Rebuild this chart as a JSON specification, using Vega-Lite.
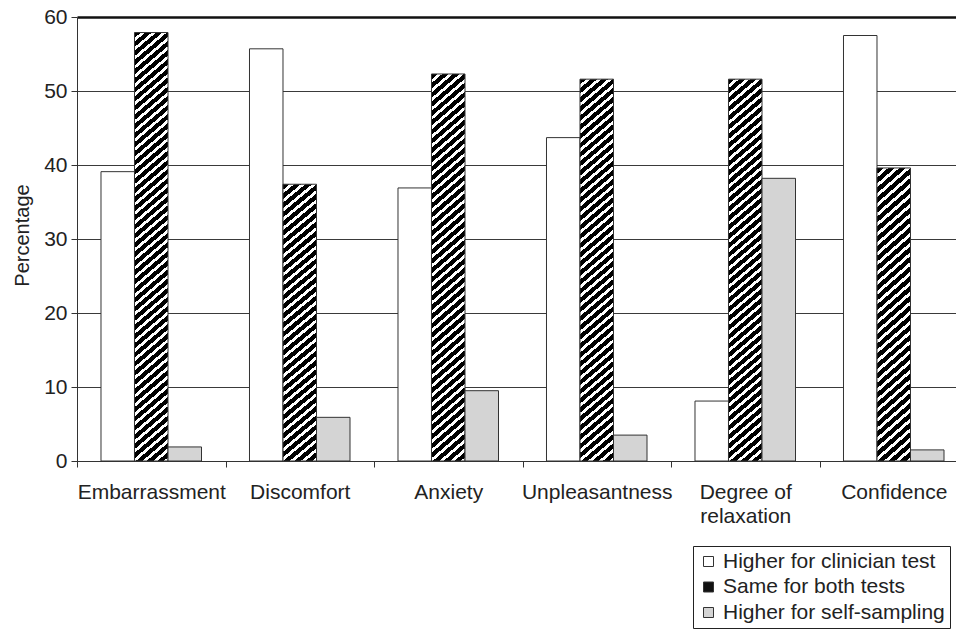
{
  "$schema": "https://vega.github.io/schema/vega-lite/v6.json",
  "width": 879,
  "height": 444,
  "autosize": {"type": "none"},
  "padding": {"left": 77, "top": 17, "right": 0, "bottom": 169},
  "background": "white",
  "config": {"view": {"stroke": null}, "font": "Liberation Sans"},
  "data": {
    "values": [
      {"category": "Embarrassment", "series": "Higher for clinician test", "value": 39.1},
      {"category": "Embarrassment", "series": "Same for both tests", "value": 57.9},
      {"category": "Embarrassment", "series": "Higher for self-sampling", "value": 1.9},
      {"category": "Discomfort", "series": "Higher for clinician test", "value": 55.7},
      {"category": "Discomfort", "series": "Same for both tests", "value": 37.4},
      {"category": "Discomfort", "series": "Higher for self-sampling", "value": 5.9},
      {"category": "Anxiety", "series": "Higher for clinician test", "value": 36.9},
      {"category": "Anxiety", "series": "Same for both tests", "value": 52.3},
      {"category": "Anxiety", "series": "Higher for self-sampling", "value": 9.5},
      {"category": "Unpleasantness", "series": "Higher for clinician test", "value": 43.7},
      {"category": "Unpleasantness", "series": "Same for both tests", "value": 51.6},
      {"category": "Unpleasantness", "series": "Higher for self-sampling", "value": 3.5},
      {"category": "Degree of relaxation", "series": "Higher for clinician test", "value": 8.1},
      {"category": "Degree of relaxation", "series": "Same for both tests", "value": 51.6},
      {"category": "Degree of relaxation", "series": "Higher for self-sampling", "value": 38.2},
      {"category": "Confidence", "series": "Higher for clinician test", "value": 57.5},
      {"category": "Confidence", "series": "Same for both tests", "value": 39.6},
      {"category": "Confidence", "series": "Higher for self-sampling", "value": 1.5}
    ]
  },
  "mark": {"type": "bar", "stroke": "#333", "strokeWidth": 1},
  "encoding": {
    "x": {
      "field": "category",
      "type": "nominal",
      "sort": null,
      "scale": {"range": [0, 891], "paddingInner": 0, "paddingOuter": 0},
      "axis": {
        "title": null,
        "labelAngle": 0,
        "labelFontSize": 21,
        "labelColor": "#222",
        "labelPadding": 14,
        "labelLineHeight": 24,
        "labelOverlap": false,
        "labelLimit": 300,
        "tickBand": "extent",
        "tickSize": 6,
        "tickColor": "#333",
        "domainColor": "#333",
        "grid": false,
        "labelExpr": "datum.value === 'Degree of relaxation' ? ['Degree of', 'relaxation'] : datum.label"
      }
    },
    "xOffset": {
      "field": "series",
      "type": "nominal",
      "sort": null,
      "scale": {"paddingInner": 0, "paddingOuter": 0.716}
    },
    "y": {
      "field": "value",
      "type": "quantitative",
      "scale": {"domain": [0, 60]},
      "axis": {
        "title": "Percentage",
        "values": [0, 10, 20, 30, 40, 50, 60],
        "grid": true,
        "gridColor": {"condition": {"test": "datum.value === 60", "value": "#111"}, "value": "#3a3a3a"},
        "gridWidth": {"condition": {"test": "datum.value === 60", "value": 2.4}, "value": 1.2},
        "tickSize": 6,
        "tickColor": "#333",
        "domainColor": "#333",
        "labelFontSize": 21,
        "labelColor": "#222",
        "labelPadding": 4,
        "titleFontSize": 20,
        "titleFontWeight": "normal",
        "titleColor": "#222",
        "titleX": -49,
        "titleY": 218,
        "titleBaseline": "alphabetic",
        "titleAlign": "center"
      }
    },
    "fill": {
      "field": "series",
      "type": "nominal",
      "scale": {
        "domain": ["Higher for clinician test", "Same for both tests", "Higher for self-sampling"],
        "range": ["#ffffff", "#111111", "#d4d4d4"]
      },
      "legend": {
        "title": null,
        "orient": "none",
        "legendX": 616,
        "legendY": 529,
        "direction": "vertical",
        "strokeColor": "#222",
        "fillColor": "#ffffff",
        "padding": 5,
        "symbolType": "square",
        "symbolSize": 100,
        "symbolStrokeWidth": 1,
        "labelFontSize": 21,
        "labelColor": "#222",
        "labelOffset": 4,
        "rowPadding": 3.5,
        "labelLimit": 500
      },
      "condition": [
        {
          "test": "datum.series === 'Same for both tests' && datum.category === 'Embarrassment'",
          "value": {"gradient": "linear", "x1": 0, "y1": 0, "x2": 0.0706, "y2": 1.0618, "stops": [
            {"offset":0,"color":"#000"},{"offset":0.012,"color":"#000"},{"offset":0.012,"color":"#fff"},{"offset":0.02,"color":"#fff"},
            {"offset":0.02,"color":"#000"},{"offset":0.032,"color":"#000"},{"offset":0.032,"color":"#fff"},{"offset":0.04,"color":"#fff"},
            {"offset":0.04,"color":"#000"},{"offset":0.052,"color":"#000"},{"offset":0.052,"color":"#fff"},{"offset":0.06,"color":"#fff"},
            {"offset":0.06,"color":"#000"},{"offset":0.072,"color":"#000"},{"offset":0.072,"color":"#fff"},{"offset":0.08,"color":"#fff"},
            {"offset":0.08,"color":"#000"},{"offset":0.092,"color":"#000"},{"offset":0.092,"color":"#fff"},{"offset":0.1,"color":"#fff"},
            {"offset":0.1,"color":"#000"},{"offset":0.112,"color":"#000"},{"offset":0.112,"color":"#fff"},{"offset":0.12,"color":"#fff"},
            {"offset":0.12,"color":"#000"},{"offset":0.132,"color":"#000"},{"offset":0.132,"color":"#fff"},{"offset":0.14,"color":"#fff"},
            {"offset":0.14,"color":"#000"},{"offset":0.152,"color":"#000"},{"offset":0.152,"color":"#fff"},{"offset":0.16,"color":"#fff"},
            {"offset":0.16,"color":"#000"},{"offset":0.172,"color":"#000"},{"offset":0.172,"color":"#fff"},{"offset":0.18,"color":"#fff"},
            {"offset":0.18,"color":"#000"},{"offset":0.192,"color":"#000"},{"offset":0.192,"color":"#fff"},{"offset":0.2,"color":"#fff"},
            {"offset":0.2,"color":"#000"},{"offset":0.212,"color":"#000"},{"offset":0.212,"color":"#fff"},{"offset":0.22,"color":"#fff"},
            {"offset":0.22,"color":"#000"},{"offset":0.232,"color":"#000"},{"offset":0.232,"color":"#fff"},{"offset":0.24,"color":"#fff"},
            {"offset":0.24,"color":"#000"},{"offset":0.252,"color":"#000"},{"offset":0.252,"color":"#fff"},{"offset":0.26,"color":"#fff"},
            {"offset":0.26,"color":"#000"},{"offset":0.272,"color":"#000"},{"offset":0.272,"color":"#fff"},{"offset":0.28,"color":"#fff"},
            {"offset":0.28,"color":"#000"},{"offset":0.292,"color":"#000"},{"offset":0.292,"color":"#fff"},{"offset":0.3,"color":"#fff"},
            {"offset":0.3,"color":"#000"},{"offset":0.312,"color":"#000"},{"offset":0.312,"color":"#fff"},{"offset":0.32,"color":"#fff"},
            {"offset":0.32,"color":"#000"},{"offset":0.332,"color":"#000"},{"offset":0.332,"color":"#fff"},{"offset":0.34,"color":"#fff"},
            {"offset":0.34,"color":"#000"},{"offset":0.352,"color":"#000"},{"offset":0.352,"color":"#fff"},{"offset":0.36,"color":"#fff"},
            {"offset":0.36,"color":"#000"},{"offset":0.372,"color":"#000"},{"offset":0.372,"color":"#fff"},{"offset":0.38,"color":"#fff"},
            {"offset":0.38,"color":"#000"},{"offset":0.392,"color":"#000"},{"offset":0.392,"color":"#fff"},{"offset":0.4,"color":"#fff"},
            {"offset":0.4,"color":"#000"},{"offset":0.412,"color":"#000"},{"offset":0.412,"color":"#fff"},{"offset":0.42,"color":"#fff"},
            {"offset":0.42,"color":"#000"},{"offset":0.432,"color":"#000"},{"offset":0.432,"color":"#fff"},{"offset":0.44,"color":"#fff"},
            {"offset":0.44,"color":"#000"},{"offset":0.452,"color":"#000"},{"offset":0.452,"color":"#fff"},{"offset":0.46,"color":"#fff"},
            {"offset":0.46,"color":"#000"},{"offset":0.472,"color":"#000"},{"offset":0.472,"color":"#fff"},{"offset":0.48,"color":"#fff"},
            {"offset":0.48,"color":"#000"},{"offset":0.492,"color":"#000"},{"offset":0.492,"color":"#fff"},{"offset":0.5,"color":"#fff"},
            {"offset":0.5,"color":"#000"},{"offset":0.512,"color":"#000"},{"offset":0.512,"color":"#fff"},{"offset":0.52,"color":"#fff"},
            {"offset":0.52,"color":"#000"},{"offset":0.532,"color":"#000"},{"offset":0.532,"color":"#fff"},{"offset":0.54,"color":"#fff"},
            {"offset":0.54,"color":"#000"},{"offset":0.552,"color":"#000"},{"offset":0.552,"color":"#fff"},{"offset":0.56,"color":"#fff"},
            {"offset":0.56,"color":"#000"},{"offset":0.572,"color":"#000"},{"offset":0.572,"color":"#fff"},{"offset":0.58,"color":"#fff"},
            {"offset":0.58,"color":"#000"},{"offset":0.592,"color":"#000"},{"offset":0.592,"color":"#fff"},{"offset":0.6,"color":"#fff"},
            {"offset":0.6,"color":"#000"},{"offset":0.612,"color":"#000"},{"offset":0.612,"color":"#fff"},{"offset":0.62,"color":"#fff"},
            {"offset":0.62,"color":"#000"},{"offset":0.632,"color":"#000"},{"offset":0.632,"color":"#fff"},{"offset":0.64,"color":"#fff"},
            {"offset":0.64,"color":"#000"},{"offset":0.652,"color":"#000"},{"offset":0.652,"color":"#fff"},{"offset":0.66,"color":"#fff"},
            {"offset":0.66,"color":"#000"},{"offset":0.672,"color":"#000"},{"offset":0.672,"color":"#fff"},{"offset":0.68,"color":"#fff"},
            {"offset":0.68,"color":"#000"},{"offset":0.692,"color":"#000"},{"offset":0.692,"color":"#fff"},{"offset":0.7,"color":"#fff"},
            {"offset":0.7,"color":"#000"},{"offset":0.712,"color":"#000"},{"offset":0.712,"color":"#fff"},{"offset":0.72,"color":"#fff"},
            {"offset":0.72,"color":"#000"},{"offset":0.732,"color":"#000"},{"offset":0.732,"color":"#fff"},{"offset":0.74,"color":"#fff"},
            {"offset":0.74,"color":"#000"},{"offset":0.752,"color":"#000"},{"offset":0.752,"color":"#fff"},{"offset":0.76,"color":"#fff"},
            {"offset":0.76,"color":"#000"},{"offset":0.772,"color":"#000"},{"offset":0.772,"color":"#fff"},{"offset":0.78,"color":"#fff"},
            {"offset":0.78,"color":"#000"},{"offset":0.792,"color":"#000"},{"offset":0.792,"color":"#fff"},{"offset":0.8,"color":"#fff"},
            {"offset":0.8,"color":"#000"},{"offset":0.812,"color":"#000"},{"offset":0.812,"color":"#fff"},{"offset":0.82,"color":"#fff"},
            {"offset":0.82,"color":"#000"},{"offset":0.832,"color":"#000"},{"offset":0.832,"color":"#fff"},{"offset":0.84,"color":"#fff"},
            {"offset":0.84,"color":"#000"},{"offset":0.852,"color":"#000"},{"offset":0.852,"color":"#fff"},{"offset":0.86,"color":"#fff"},
            {"offset":0.86,"color":"#000"},{"offset":0.872,"color":"#000"},{"offset":0.872,"color":"#fff"},{"offset":0.88,"color":"#fff"},
            {"offset":0.88,"color":"#000"},{"offset":0.892,"color":"#000"},{"offset":0.892,"color":"#fff"},{"offset":0.9,"color":"#fff"},
            {"offset":0.9,"color":"#000"},{"offset":0.912,"color":"#000"},{"offset":0.912,"color":"#fff"},{"offset":0.92,"color":"#fff"},
            {"offset":0.92,"color":"#000"},{"offset":0.932,"color":"#000"},{"offset":0.932,"color":"#fff"},{"offset":0.94,"color":"#fff"},
            {"offset":0.94,"color":"#000"},{"offset":0.952,"color":"#000"},{"offset":0.952,"color":"#fff"},{"offset":0.96,"color":"#fff"},
            {"offset":0.96,"color":"#000"},{"offset":0.972,"color":"#000"},{"offset":0.972,"color":"#fff"},{"offset":0.98,"color":"#fff"},
            {"offset":0.98,"color":"#000"},{"offset":0.992,"color":"#000"},{"offset":0.992,"color":"#fff"},{"offset":1,"color":"#fff"}
          ]}
        },
        {
          "test": "datum.series === 'Same for both tests' && (datum.category === 'Anxiety' || datum.category === 'Unpleasantness' || datum.category === 'Degree of relaxation')",
          "value": {"gradient": "linear", "x1": 0, "y1": 0, "x2": 0.0793, "y2": 1.0684, "stops": [
            {"offset":0,"color":"#000"},{"offset":0.0133,"color":"#000"},{"offset":0.0133,"color":"#fff"},{"offset":0.0222,"color":"#fff"},
            {"offset":0.0222,"color":"#000"},{"offset":0.0356,"color":"#000"},{"offset":0.0356,"color":"#fff"},{"offset":0.0444,"color":"#fff"},
            {"offset":0.0444,"color":"#000"},{"offset":0.0578,"color":"#000"},{"offset":0.0578,"color":"#fff"},{"offset":0.0667,"color":"#fff"},
            {"offset":0.0667,"color":"#000"},{"offset":0.08,"color":"#000"},{"offset":0.08,"color":"#fff"},{"offset":0.0889,"color":"#fff"},
            {"offset":0.0889,"color":"#000"},{"offset":0.1022,"color":"#000"},{"offset":0.1022,"color":"#fff"},{"offset":0.1111,"color":"#fff"},
            {"offset":0.1111,"color":"#000"},{"offset":0.1244,"color":"#000"},{"offset":0.1244,"color":"#fff"},{"offset":0.1333,"color":"#fff"},
            {"offset":0.1333,"color":"#000"},{"offset":0.1467,"color":"#000"},{"offset":0.1467,"color":"#fff"},{"offset":0.1556,"color":"#fff"},
            {"offset":0.1556,"color":"#000"},{"offset":0.1689,"color":"#000"},{"offset":0.1689,"color":"#fff"},{"offset":0.1778,"color":"#fff"},
            {"offset":0.1778,"color":"#000"},{"offset":0.1911,"color":"#000"},{"offset":0.1911,"color":"#fff"},{"offset":0.2,"color":"#fff"},
            {"offset":0.2,"color":"#000"},{"offset":0.2133,"color":"#000"},{"offset":0.2133,"color":"#fff"},{"offset":0.2222,"color":"#fff"},
            {"offset":0.2222,"color":"#000"},{"offset":0.2356,"color":"#000"},{"offset":0.2356,"color":"#fff"},{"offset":0.2444,"color":"#fff"},
            {"offset":0.2444,"color":"#000"},{"offset":0.2578,"color":"#000"},{"offset":0.2578,"color":"#fff"},{"offset":0.2667,"color":"#fff"},
            {"offset":0.2667,"color":"#000"},{"offset":0.28,"color":"#000"},{"offset":0.28,"color":"#fff"},{"offset":0.2889,"color":"#fff"},
            {"offset":0.2889,"color":"#000"},{"offset":0.3022,"color":"#000"},{"offset":0.3022,"color":"#fff"},{"offset":0.3111,"color":"#fff"},
            {"offset":0.3111,"color":"#000"},{"offset":0.3244,"color":"#000"},{"offset":0.3244,"color":"#fff"},{"offset":0.3333,"color":"#fff"},
            {"offset":0.3333,"color":"#000"},{"offset":0.3467,"color":"#000"},{"offset":0.3467,"color":"#fff"},{"offset":0.3556,"color":"#fff"},
            {"offset":0.3556,"color":"#000"},{"offset":0.3689,"color":"#000"},{"offset":0.3689,"color":"#fff"},{"offset":0.3778,"color":"#fff"},
            {"offset":0.3778,"color":"#000"},{"offset":0.3911,"color":"#000"},{"offset":0.3911,"color":"#fff"},{"offset":0.4,"color":"#fff"},
            {"offset":0.4,"color":"#000"},{"offset":0.4133,"color":"#000"},{"offset":0.4133,"color":"#fff"},{"offset":0.4222,"color":"#fff"},
            {"offset":0.4222,"color":"#000"},{"offset":0.4356,"color":"#000"},{"offset":0.4356,"color":"#fff"},{"offset":0.4444,"color":"#fff"},
            {"offset":0.4444,"color":"#000"},{"offset":0.4578,"color":"#000"},{"offset":0.4578,"color":"#fff"},{"offset":0.4667,"color":"#fff"},
            {"offset":0.4667,"color":"#000"},{"offset":0.48,"color":"#000"},{"offset":0.48,"color":"#fff"},{"offset":0.4889,"color":"#fff"},
            {"offset":0.4889,"color":"#000"},{"offset":0.5022,"color":"#000"},{"offset":0.5022,"color":"#fff"},{"offset":0.5111,"color":"#fff"},
            {"offset":0.5111,"color":"#000"},{"offset":0.5244,"color":"#000"},{"offset":0.5244,"color":"#fff"},{"offset":0.5333,"color":"#fff"},
            {"offset":0.5333,"color":"#000"},{"offset":0.5467,"color":"#000"},{"offset":0.5467,"color":"#fff"},{"offset":0.5556,"color":"#fff"},
            {"offset":0.5556,"color":"#000"},{"offset":0.5689,"color":"#000"},{"offset":0.5689,"color":"#fff"},{"offset":0.5778,"color":"#fff"},
            {"offset":0.5778,"color":"#000"},{"offset":0.5911,"color":"#000"},{"offset":0.5911,"color":"#fff"},{"offset":0.6,"color":"#fff"},
            {"offset":0.6,"color":"#000"},{"offset":0.6133,"color":"#000"},{"offset":0.6133,"color":"#fff"},{"offset":0.6222,"color":"#fff"},
            {"offset":0.6222,"color":"#000"},{"offset":0.6356,"color":"#000"},{"offset":0.6356,"color":"#fff"},{"offset":0.6444,"color":"#fff"},
            {"offset":0.6444,"color":"#000"},{"offset":0.6578,"color":"#000"},{"offset":0.6578,"color":"#fff"},{"offset":0.6667,"color":"#fff"},
            {"offset":0.6667,"color":"#000"},{"offset":0.68,"color":"#000"},{"offset":0.68,"color":"#fff"},{"offset":0.6889,"color":"#fff"},
            {"offset":0.6889,"color":"#000"},{"offset":0.7022,"color":"#000"},{"offset":0.7022,"color":"#fff"},{"offset":0.7111,"color":"#fff"},
            {"offset":0.7111,"color":"#000"},{"offset":0.7244,"color":"#000"},{"offset":0.7244,"color":"#fff"},{"offset":0.7333,"color":"#fff"},
            {"offset":0.7333,"color":"#000"},{"offset":0.7467,"color":"#000"},{"offset":0.7467,"color":"#fff"},{"offset":0.7556,"color":"#fff"},
            {"offset":0.7556,"color":"#000"},{"offset":0.7689,"color":"#000"},{"offset":0.7689,"color":"#fff"},{"offset":0.7778,"color":"#fff"},
            {"offset":0.7778,"color":"#000"},{"offset":0.7911,"color":"#000"},{"offset":0.7911,"color":"#fff"},{"offset":0.8,"color":"#fff"},
            {"offset":0.8,"color":"#000"},{"offset":0.8133,"color":"#000"},{"offset":0.8133,"color":"#fff"},{"offset":0.8222,"color":"#fff"},
            {"offset":0.8222,"color":"#000"},{"offset":0.8356,"color":"#000"},{"offset":0.8356,"color":"#fff"},{"offset":0.8444,"color":"#fff"},
            {"offset":0.8444,"color":"#000"},{"offset":0.8578,"color":"#000"},{"offset":0.8578,"color":"#fff"},{"offset":0.8667,"color":"#fff"},
            {"offset":0.8667,"color":"#000"},{"offset":0.88,"color":"#000"},{"offset":0.88,"color":"#fff"},{"offset":0.8889,"color":"#fff"},
            {"offset":0.8889,"color":"#000"},{"offset":0.9022,"color":"#000"},{"offset":0.9022,"color":"#fff"},{"offset":0.9111,"color":"#fff"},
            {"offset":0.9111,"color":"#000"},{"offset":0.9244,"color":"#000"},{"offset":0.9244,"color":"#fff"},{"offset":0.9333,"color":"#fff"},
            {"offset":0.9333,"color":"#000"},{"offset":0.9467,"color":"#000"},{"offset":0.9467,"color":"#fff"},{"offset":0.9556,"color":"#fff"},
            {"offset":0.9556,"color":"#000"},{"offset":0.9689,"color":"#000"},{"offset":0.9689,"color":"#fff"},{"offset":0.9778,"color":"#fff"},
            {"offset":0.9778,"color":"#000"},{"offset":0.9911,"color":"#000"},{"offset":0.9911,"color":"#fff"},{"offset":1,"color":"#fff"}
          ]}
        },
        {
          "test": "datum.series === 'Same for both tests'",
          "value": {"gradient": "linear", "x1": 0, "y1": 0, "x2": 0.1088, "y2": 1.089, "stops": [
            {"offset":0,"color":"#000"},{"offset":0.0182,"color":"#000"},{"offset":0.0182,"color":"#fff"},{"offset":0.0303,"color":"#fff"},
            {"offset":0.0303,"color":"#000"},{"offset":0.0485,"color":"#000"},{"offset":0.0485,"color":"#fff"},{"offset":0.0606,"color":"#fff"},
            {"offset":0.0606,"color":"#000"},{"offset":0.0788,"color":"#000"},{"offset":0.0788,"color":"#fff"},{"offset":0.0909,"color":"#fff"},
            {"offset":0.0909,"color":"#000"},{"offset":0.1091,"color":"#000"},{"offset":0.1091,"color":"#fff"},{"offset":0.1212,"color":"#fff"},
            {"offset":0.1212,"color":"#000"},{"offset":0.1394,"color":"#000"},{"offset":0.1394,"color":"#fff"},{"offset":0.1515,"color":"#fff"},
            {"offset":0.1515,"color":"#000"},{"offset":0.1697,"color":"#000"},{"offset":0.1697,"color":"#fff"},{"offset":0.1818,"color":"#fff"},
            {"offset":0.1818,"color":"#000"},{"offset":0.2,"color":"#000"},{"offset":0.2,"color":"#fff"},{"offset":0.2121,"color":"#fff"},
            {"offset":0.2121,"color":"#000"},{"offset":0.2303,"color":"#000"},{"offset":0.2303,"color":"#fff"},{"offset":0.2424,"color":"#fff"},
            {"offset":0.2424,"color":"#000"},{"offset":0.2606,"color":"#000"},{"offset":0.2606,"color":"#fff"},{"offset":0.2727,"color":"#fff"},
            {"offset":0.2727,"color":"#000"},{"offset":0.2909,"color":"#000"},{"offset":0.2909,"color":"#fff"},{"offset":0.303,"color":"#fff"},
            {"offset":0.303,"color":"#000"},{"offset":0.3212,"color":"#000"},{"offset":0.3212,"color":"#fff"},{"offset":0.3333,"color":"#fff"},
            {"offset":0.3333,"color":"#000"},{"offset":0.3515,"color":"#000"},{"offset":0.3515,"color":"#fff"},{"offset":0.3636,"color":"#fff"},
            {"offset":0.3636,"color":"#000"},{"offset":0.3818,"color":"#000"},{"offset":0.3818,"color":"#fff"},{"offset":0.3939,"color":"#fff"},
            {"offset":0.3939,"color":"#000"},{"offset":0.4121,"color":"#000"},{"offset":0.4121,"color":"#fff"},{"offset":0.4242,"color":"#fff"},
            {"offset":0.4242,"color":"#000"},{"offset":0.4424,"color":"#000"},{"offset":0.4424,"color":"#fff"},{"offset":0.4545,"color":"#fff"},
            {"offset":0.4545,"color":"#000"},{"offset":0.4727,"color":"#000"},{"offset":0.4727,"color":"#fff"},{"offset":0.4848,"color":"#fff"},
            {"offset":0.4848,"color":"#000"},{"offset":0.503,"color":"#000"},{"offset":0.503,"color":"#fff"},{"offset":0.5152,"color":"#fff"},
            {"offset":0.5152,"color":"#000"},{"offset":0.5333,"color":"#000"},{"offset":0.5333,"color":"#fff"},{"offset":0.5455,"color":"#fff"},
            {"offset":0.5455,"color":"#000"},{"offset":0.5636,"color":"#000"},{"offset":0.5636,"color":"#fff"},{"offset":0.5758,"color":"#fff"},
            {"offset":0.5758,"color":"#000"},{"offset":0.5939,"color":"#000"},{"offset":0.5939,"color":"#fff"},{"offset":0.6061,"color":"#fff"},
            {"offset":0.6061,"color":"#000"},{"offset":0.6242,"color":"#000"},{"offset":0.6242,"color":"#fff"},{"offset":0.6364,"color":"#fff"},
            {"offset":0.6364,"color":"#000"},{"offset":0.6545,"color":"#000"},{"offset":0.6545,"color":"#fff"},{"offset":0.6667,"color":"#fff"},
            {"offset":0.6667,"color":"#000"},{"offset":0.6848,"color":"#000"},{"offset":0.6848,"color":"#fff"},{"offset":0.697,"color":"#fff"},
            {"offset":0.697,"color":"#000"},{"offset":0.7152,"color":"#000"},{"offset":0.7152,"color":"#fff"},{"offset":0.7273,"color":"#fff"},
            {"offset":0.7273,"color":"#000"},{"offset":0.7455,"color":"#000"},{"offset":0.7455,"color":"#fff"},{"offset":0.7576,"color":"#fff"},
            {"offset":0.7576,"color":"#000"},{"offset":0.7758,"color":"#000"},{"offset":0.7758,"color":"#fff"},{"offset":0.7879,"color":"#fff"},
            {"offset":0.7879,"color":"#000"},{"offset":0.8061,"color":"#000"},{"offset":0.8061,"color":"#fff"},{"offset":0.8182,"color":"#fff"},
            {"offset":0.8182,"color":"#000"},{"offset":0.8364,"color":"#000"},{"offset":0.8364,"color":"#fff"},{"offset":0.8485,"color":"#fff"},
            {"offset":0.8485,"color":"#000"},{"offset":0.8667,"color":"#000"},{"offset":0.8667,"color":"#fff"},{"offset":0.8788,"color":"#fff"},
            {"offset":0.8788,"color":"#000"},{"offset":0.897,"color":"#000"},{"offset":0.897,"color":"#fff"},{"offset":0.9091,"color":"#fff"},
            {"offset":0.9091,"color":"#000"},{"offset":0.9273,"color":"#000"},{"offset":0.9273,"color":"#fff"},{"offset":0.9394,"color":"#fff"},
            {"offset":0.9394,"color":"#000"},{"offset":0.9576,"color":"#000"},{"offset":0.9576,"color":"#fff"},{"offset":0.9697,"color":"#fff"},
            {"offset":0.9697,"color":"#000"},{"offset":0.9879,"color":"#000"},{"offset":0.9879,"color":"#fff"},{"offset":1,"color":"#fff"}
          ]}
        }
      ]
    }
  }
}
